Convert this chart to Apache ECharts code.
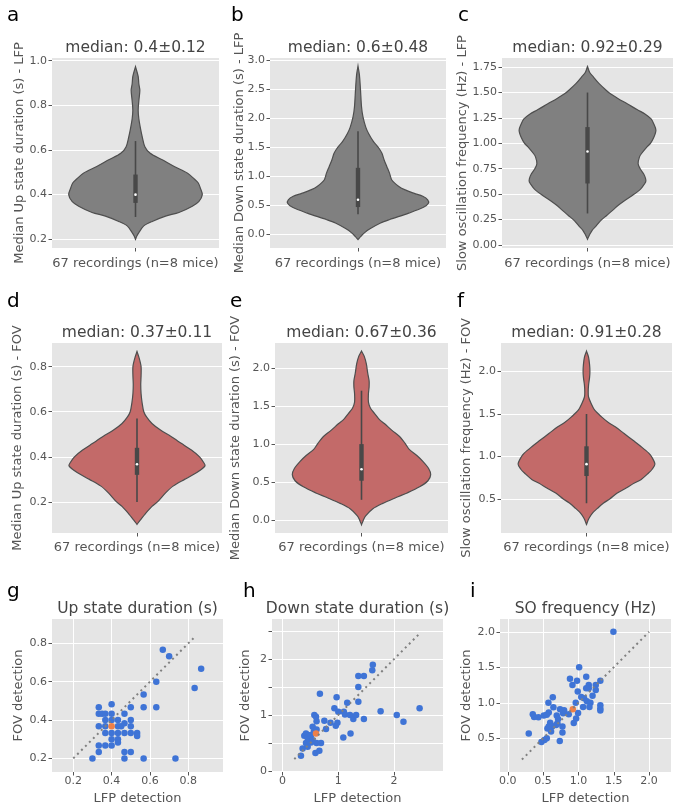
<!DOCTYPE html>
<html><head><meta charset="utf-8">
<script src="https://cdn.jsdelivr.net/npm/echarts@6/dist/echarts.min.js"></script>
<style>html,body{margin:0;padding:0;background:#fff}#c{width:685px;height:803px}</style>
</head><body><div id="c"></div>
<script>
// ---------- violin profiles (value, relative half-width) ----------
const upLfpY = [0.973,0.93,0.896,0.867,0.82,0.778,0.74,0.704,0.66,0.615,0.585,0.556,0.526,0.496,0.47,0.452,0.43,0.40,0.37,0.348,0.32,0.304,0.28,0.259,0.23,0.215,0.20];
const upLfpW = [0,0.04,0.05,0.065,0.05,0.04,0.05,0.07,0.10,0.14,0.22,0.40,0.58,0.78,0.88,0.94,0.97,1.0,0.95,0.85,0.65,0.45,0.25,0.12,0.05,0.02,0];
const upLfpBox = [0.30,0.363,0.40,0.49,0.64];

const downLfpY = [2.90,2.75,2.5,2.2,2.03,1.85,1.74,1.6,1.5,1.4,1.29,1.17,1.05,0.94,0.83,0.77,0.71,0.66,0.60,0.54,0.47,0.37,0.26,0.2,0.1,0.03,-0.03,-0.086];
const downLfpW = [0,0.02,0.035,0.05,0.07,0.11,0.15,0.22,0.29,0.34,0.37,0.41,0.45,0.48,0.58,0.67,0.80,0.92,0.99,1.0,0.93,0.72,0.45,0.32,0.17,0.09,0.04,0];
const downLfpBox = [0.35,0.475,0.60,1.15,1.78];

const soLfpY = [1.757,1.70,1.65,1.587,1.53,1.49,1.44,1.39,1.33,1.29,1.24,1.19,1.13,1.06,1.0,0.965,0.90,0.867,0.80,0.75,0.70,0.65,0.62,0.57,0.54,0.49,0.44,0.39,0.343,0.29,0.245,0.19,0.147,0.10,0.056];
const soLfpW = [0,0.03,0.09,0.17,0.26,0.33,0.45,0.58,0.73,0.84,0.93,0.97,1.0,0.97,0.92,0.87,0.79,0.76,0.74,0.77,0.82,0.85,0.85,0.80,0.76,0.66,0.55,0.45,0.37,0.28,0.2,0.13,0.07,0.03,0];
const soLfpBox = [0.31,0.605,0.92,1.16,1.50];

const upFovY = [0.867,0.84,0.80,0.76,0.72,0.68,0.64,0.60,0.577,0.548,0.52,0.49,0.46,0.43,0.40,0.375,0.36,0.33,0.30,0.27,0.24,0.20,0.18,0.15,0.12,0.10];
const upFovW = [0,0.03,0.06,0.06,0.055,0.06,0.075,0.10,0.14,0.22,0.34,0.50,0.65,0.80,0.92,0.98,1.0,0.88,0.70,0.53,0.42,0.30,0.22,0.13,0.05,0];
const upFovBox = [0.20,0.32,0.367,0.44,0.57];

const downFovY = [2.22,2.15,2.05,1.93,1.83,1.75,1.66,1.55,1.47,1.40,1.32,1.27,1.18,1.10,1.01,0.93,0.85,0.77,0.68,0.60,0.52,0.44,0.36,0.30,0.22,0.15,0.06,0.0,-0.057];
const downFovW = [0,0.04,0.07,0.09,0.11,0.11,0.10,0.10,0.13,0.19,0.26,0.33,0.44,0.55,0.63,0.69,0.80,0.89,0.97,1.0,0.96,0.84,0.66,0.50,0.30,0.16,0.06,0.025,0];
const downFovBox = [0.27,0.52,0.67,1.00,1.70];

const soFovY = [2.24,2.17,2.08,2.0,1.93,1.84,1.76,1.70,1.62,1.544,1.466,1.40,1.35,1.27,1.19,1.115,1.04,1.0,0.91,0.85,0.80,0.73,0.687,0.63,0.57,0.50,0.453,0.39,0.336,0.27,0.20];
const soFovW = [0,0.03,0.045,0.05,0.045,0.03,0.025,0.03,0.07,0.12,0.22,0.32,0.42,0.55,0.68,0.80,0.91,0.95,1.0,0.96,0.90,0.80,0.70,0.58,0.45,0.34,0.25,0.16,0.09,0.035,0];
const soFovBox = [0.45,0.77,0.91,1.12,1.50];

// ---------- scatter data (LFP detection vs FOV detection) ----------
const upLfp = [0.300,0.333,0.333,0.333,0.333,0.333,0.350,0.367,0.367,0.367,0.367,0.367,0.400,0.400,0.400,0.400,0.400,0.400,0.433,0.433,0.433,0.433,0.433,0.450,0.467,0.467,0.467,0.467,0.467,0.500,0.500,0.500,0.500,0.500,0.533,0.533,0.567,0.567,0.567,0.633,0.633,0.667,0.700,0.733,0.833,0.867];
const upFov = [0.200,0.233,0.267,0.367,0.433,0.467,0.433,0.433,0.400,0.367,0.333,0.267,0.483,0.433,0.400,0.333,0.300,0.267,0.400,0.367,0.333,0.300,0.283,0.367,0.433,0.383,0.333,0.233,0.200,0.467,0.400,0.367,0.333,0.233,0.333,0.317,0.533,0.467,0.200,0.600,0.467,0.767,0.733,0.200,0.567,0.667];
const upMedian = [0.40, 0.367];
const upDiag = [0.20, 0.84];

const downLfp = [0.33,0.36,0.39,0.42,0.42,0.45,0.45,0.48,0.48,0.51,0.51,0.54,0.54,0.56,0.57,0.59,0.60,0.61,0.61,0.61,0.66,0.67,0.69,0.75,0.78,0.86,0.93,0.955,0.97,0.985,1.0,1.09,1.10,1.12,1.16,1.21,1.22,1.27,1.32,1.36,1.36,1.36,1.46,1.46,1.61,1.62,1.76,2.05,2.17,2.46];
const downFov = [0.27,0.40,0.63,0.67,0.50,0.43,0.59,0.64,0.52,0.64,0.51,0.79,0.55,0.70,1.0,0.32,0.97,0.89,0.74,0.50,0.36,1.38,0.50,0.90,0.75,0.86,1.12,0.81,1.32,0.86,1.06,0.60,1.06,1.01,1.22,1.0,0.67,0.93,1.0,1.24,1.50,1.70,1.70,0.93,1.80,1.90,1.07,1.0,0.88,1.12];
const downMedian = [0.60, 0.67];
const downDiag = [0.21, 2.47];

const soLfp = [1.495,1.01,0.88,0.915,0.98,1.11,1.31,1.245,1.245,1.146,1.146,1.11,1.2,0.99,1.04,1.08,1.12,1.17,1.066,1.156,1.31,1.31,1.31,0.962,0.995,0.967,0.934,0.783,0.797,0.863,0.74,0.637,0.575,0.646,0.58,0.552,0.51,0.434,0.373,0.354,0.297,0.476,0.519,0.552,0.561,0.60,0.627,0.693,0.712,0.703,0.774,0.736,0.774,0.613,0.58,0.684];
const soFov = [2.0,1.50,1.34,1.25,1.31,1.365,1.31,1.25,1.18,1.25,1.205,1.205,1.10,1.16,1.08,1.065,1.02,1.0,0.94,0.94,0.965,0.92,0.89,1.0,0.857,0.78,0.716,0.853,0.895,0.84,0.91,1.078,1.0,0.937,0.862,0.83,0.82,0.796,0.80,0.84,0.566,0.448,0.476,0.50,0.636,0.72,0.665,0.82,0.773,0.71,0.665,0.46,0.58,0.594,0.665,0.688];
const soMedian = [0.92, 0.91];
const soDiag = [0.20, 2.00];

// ---------- ticks ----------
const ticksA = [0.2,0.4,0.6,0.8,1.0];
const ticksB = [0,0.5,1,1.5,2,2.5,3];
const ticksC = [0,0.25,0.5,0.75,1,1.25,1.5,1.75];
const ticksD = [0.2,0.4,0.6,0.8];
const ticksE = [0,0.5,1,1.5,2];
const ticksF = [0.5,1,1.5,2];
const ticksGx = [0.2,0.4,0.6,0.8];
const ticksGy = [0.2,0.4,0.6,0.8];
const ticksHx = [0,1,2];
const ticksHy = [0,0.5,1,1.5,2,2.5];
const labelsHy = [0,1,2];
const ticksIx = [0,0.5,1,1.5,2];
const ticksIy = [0.5,1,1.5,2];
const violinCenter = [0];

const titles = ['median: 0.4±0.12','median: 0.6±0.48','median: 0.92±0.29','median: 0.37±0.11','median: 0.67±0.36','median: 0.91±0.28','Up state duration (s)','Down state duration (s)','SO frequency (Hz)'];
const letters = ['a','b','c','d','e','f','g','h','i'];
const xNameViolin = '67 recordings (n=8 mice)';

// ---------- layout ----------
const FONT = 'DejaVu Sans';
const GRAY = '#555555';
const grids = [
  {left:52, top:58, width:167, height:190},
  {left:270, top:58, width:176, height:190},
  {left:502, top:58, width:171, height:190},
  {left:52, top:343, width:170, height:190},
  {left:275, top:343, width:173, height:190},
  {left:501, top:343, width:171, height:190},
  {left:52, top:619, width:171, height:153},
  {left:272, top:619, width:171, height:153},
  {left:500, top:619, width:171, height:153}
];

function valAxis(o) {
  return {
    type:'value', gridIndex:o.g, min:o.min, max:o.max,
    name:o.name || '', nameLocation:'middle', nameGap:o.gap, nameMoveOverlap:false,
    nameTextStyle:{color:GRAY, fontSize:13, fontFamily:FONT},
    axisLine:{show:false, onZero:false},
    axisTick:{show:true, length:3.5, lineStyle:{color:GRAY, width:1}, customValues:o.ticks},
    axisLabel:{show:!!o.labels, customValues:o.labels || [], formatter:function(v){return Number(v).toFixed(o.dec);},
      color:GRAY, fontSize:11, fontFamily:FONT, margin:o.margin || 5},
    splitLine:{show:!!o.split, lineStyle:{color:'#ffffff', width:1}}
  };
}

const xAxes = [], yAxes = [];
const violinYSpec = [
  {min:0.161, max:1.012, t:ticksA, dec:1, name:'Median Up state duration (s) - LFP', gap:26},
  {min:-0.23, max:3.04, t:ticksB, dec:1, name:'Median Down state duration (s) - LFP', gap:24},
  {min:-0.03, max:1.84, t:ticksC, dec:2, name:'Slow oscillation frequency (Hz) - LFP', gap:33},
  {min:0.062, max:0.905, t:ticksD, dec:1, name:'Median Up state duration (s) - FOV', gap:28},
  {min:-0.165, max:2.325, t:ticksE, dec:1, name:'Median Down state duration (s) - FOV', gap:33},
  {min:0.10, max:2.335, t:ticksF, dec:1, name:'Slow oscillation frequency (Hz) - FOV', gap:28}
];
violinYSpec.forEach(function(s, i) {
  xAxes.push(valAxis({g:i, min:-0.5, max:0.5, ticks:violinCenter, name:xNameViolin, gap:(i < 3 ? 9 : 8)}));
  yAxes.push(valAxis({g:i, min:s.min, max:s.max, ticks:s.t, labels:s.t, dec:s.dec, split:true, name:s.name, gap:s.gap}));
});
xAxes.push(valAxis({g:6, min:0.089, max:0.981, ticks:ticksGx, labels:ticksGx, dec:1, split:true, name:'LFP detection', gap:20, margin:4}));
yAxes.push(valAxis({g:6, min:0.129, max:0.927, ticks:ticksGy, labels:ticksGy, dec:1, split:true, name:'FOV detection', gap:27}));
xAxes.push(valAxis({g:7, min:-0.19, max:2.88, ticks:ticksHx, labels:ticksHx, dec:0, split:true, name:'LFP detection', gap:20, margin:4}));
yAxes.push(valAxis({g:7, min:-0.02, max:2.72, ticks:ticksHy, labels:labelsHy, dec:0, split:true, name:'FOV detection', gap:20}));
xAxes.push(valAxis({g:8, min:-0.11, max:2.31, ticks:ticksIx, labels:ticksIx, dec:1, split:true, name:'LFP detection', gap:20, margin:4}));
yAxes.push(valAxis({g:8, min:0.025, max:2.18, ticks:ticksIy, labels:ticksIy, dec:1, split:true, name:'FOV detection', gap:27}));

function violinSeries(idx, ys, ws, box, fill) {
  return {
    type:'custom', xAxisIndex:idx, yAxisIndex:idx, silent:true,
    data:[[0, box[2]]],
    renderItem:function(params, api) {
      const right = ys.map(function(y, i){ return api.coord([ws[i]*0.4, y]); });
      const left = [];
      for (let i = ys.length - 1; i >= 0; i--) left.push(api.coord([-ws[i]*0.4, ys[i]]));
      const pts = right.concat(left);
      const lo = api.coord([0, box[0]]), q1 = api.coord([0, box[1]]), md = api.coord([0, box[2]]),
            q3 = api.coord([0, box[3]]), hi = api.coord([0, box[4]]);
      return {type:'group', children:[
        {type:'polygon', shape:{points:pts, smooth:0.3}, style:{fill:fill, stroke:'#4e4e4e', lineWidth:1.2}},
        {type:'line', shape:{x1:lo[0], y1:lo[1], x2:hi[0], y2:hi[1]}, style:{stroke:'#484848', lineWidth:1.6}},
        {type:'rect', shape:{x:q3[0]-2.2, y:q3[1], width:4.4, height:q1[1]-q3[1]}, style:{fill:'#484848'}},
        {type:'circle', shape:{cx:md[0], cy:md[1], r:1.3}, style:{fill:'#ffffff'}}
      ]};
    }
  };
}

function zip(a, b) { return a.map(function(v, i){ return [v, b[i]]; }); }
function scatterSet(idx, xs, ys, med, diag) {
  return [
    {type:'scatter', xAxisIndex:idx, yAxisIndex:idx, silent:true, symbolSize:6.5,
      itemStyle:{color:'#3f74d6', opacity:1}, data:zip(xs, ys)},
    {type:'line', xAxisIndex:idx, yAxisIndex:idx, silent:true, symbol:'none',
      lineStyle:{color:'#808080', width:2, type:[2,3.6]}, data:[[diag[0], diag[0]], [diag[1], diag[1]]]},
    {type:'scatter', xAxisIndex:idx, yAxisIndex:idx, silent:true, symbolSize:6.5,
      itemStyle:{color:'#ee8048', opacity:1}, data:[med]}
  ];
}

const LFPC = '#808080', FOVC = '#c36a69';
let series = [
  violinSeries(0, upLfpY, upLfpW, upLfpBox, LFPC),
  violinSeries(1, downLfpY, downLfpW, downLfpBox, LFPC),
  violinSeries(2, soLfpY, soLfpW, soLfpBox, LFPC),
  violinSeries(3, upFovY, upFovW, upFovBox, FOVC),
  violinSeries(4, downFovY, downFovW, downFovBox, FOVC),
  violinSeries(5, soFovY, soFovW, soFovBox, FOVC)
];
series = series.concat(scatterSet(6, upLfp, upFov, upMedian, upDiag));
series = series.concat(scatterSet(7, downLfp, downFov, downMedian, downDiag));
series = series.concat(scatterSet(8, soLfp, soFov, soMedian, soDiag));

// titles & panel letters
const titleY = [47.5, 47.5, 47.5, 332.5, 332.5, 332.5, 608.5, 608.5, 608.5];
const letterPos = [[7,16],[231,16],[458,16],[7,302],[230,302],[457,302],[7,592],[243,592],[470,592]];
const graphic = [];
grids.forEach(function(g, i) {
  graphic.push({type:'text', x:g.left + g.width/2, y:titleY[i], silent:true,
    style:{text:titles[i], fill:'#444444', fontSize:15.5, fontFamily:FONT, align:'center', verticalAlign:'middle'}});
  graphic.push({type:'text', x:letterPos[i][0], y:letterPos[i][1], silent:true,
    style:{text:letters[i], fill:'#000000', fontSize:20, fontFamily:FONT, align:'left', verticalAlign:'middle'}});
});

const chart = echarts.init(document.getElementById('c'), null, {renderer:'canvas'});
chart.setOption({
  animation:false,
  backgroundColor:'#ffffff',
  textStyle:{fontFamily:FONT},
  grid:grids.map(function(g){ return Object.assign({show:true, backgroundColor:'#e5e5e5', borderWidth:0, containLabel:false, outerBoundsMode:'none'}, g); }),
  xAxis:xAxes,
  yAxis:yAxes,
  series:series,
  graphic:graphic
});
</script></body></html>
